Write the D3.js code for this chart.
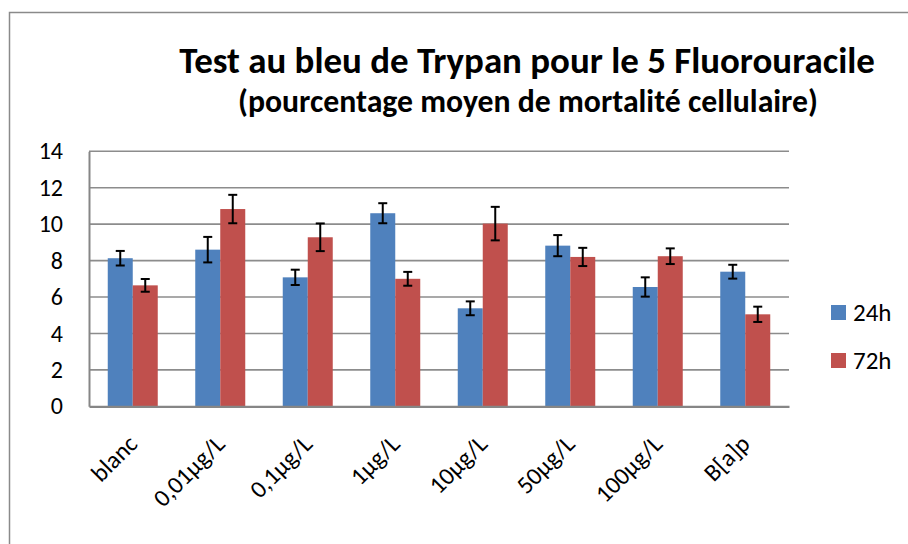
<!DOCTYPE html>
<html>
<head>
<meta charset="utf-8">
<script src="https://cdn.jsdelivr.net/npm/d3@7"></script>
<style>
  body { margin: 0; background: #fff; }
  svg text { font-family: Carlito, "Open Sans", "Noto Sans", sans-serif; fill: #000; }
</style>
</head>
<body>
<div id="chart"></div>
<script>
// --- Data ---
const categories = ["blanc", "0,01µg/L", "0,1µg/L", "1µg/L", "10µg/L", "50µg/L", "100µg/L", "B[a]p"];
const seriesNames = ["24h", "72h"];
const values24h = [8.13, 8.6, 7.08, 10.6, 5.38, 8.82, 6.55, 7.39];
const values72h = [6.64, 10.83, 9.28, 7.0, 10.03, 8.2, 8.24, 5.05];
const errors24h = [0.4, 0.7, 0.42, 0.55, 0.38, 0.58, 0.53, 0.38];
const errors72h = [0.35, 0.78, 0.76, 0.38, 0.92, 0.5, 0.43, 0.42];
const yTicks = [0, 2, 4, 6, 8, 10, 12, 14];
const titleText = "Test au bleu de Trypan pour le 5 Fluorouracile";
const subtitleText = "(pourcentage moyen de mortalité cellulaire)";

const colors = { "24h": "#4F81BD", "72h": "#C0504D" };

const W = 908, H = 544;
const plot = { left: 89, right: 789, top: 151.3, bottom: 406.3 };

const svg = d3.select("#chart").append("svg")
  .attr("width", W)
  .attr("height", H);

// chart frame
svg.append("rect")
  .attr("x", 9.5).attr("y", 12.5)
  .attr("width", W + 20).attr("height", H + 20)
  .attr("fill", "#fff")
  .attr("stroke", "#8a8a8a")
  .attr("stroke-width", 1.5);

// --- Scales ---
const x = d3.scaleBand()
  .domain(categories)
  .range([plot.left, plot.right])
  .paddingInner(0.4286)
  .paddingOuter(0.2143);

const xSeries = d3.scaleBand()
  .domain(seriesNames)
  .range([0, x.bandwidth()]);

const y = d3.scaleLinear()
  .domain([0, 14])
  .range([plot.bottom, plot.top]);

// --- Gridlines ---
svg.append("g")
  .selectAll("line")
  .data(yTicks.filter(d => d > 0))
  .join("line")
  .attr("x1", plot.left).attr("x2", plot.right)
  .attr("y1", d => y(d)).attr("y2", d => y(d))
  .attr("stroke", "#8c8c8c")
  .attr("stroke-width", 1.6);

// --- Y axis ---
const yAxis = d3.axisLeft(y)
  .tickValues(yTicks)
  .tickSize(0)
  .tickPadding(26);

const yG = svg.append("g")
  .attr("transform", `translate(${plot.left},0)`)
  .call(yAxis);
yG.select(".domain").attr("stroke", "#868686").attr("stroke-width", 2);
yG.selectAll("text").attr("font-size", 24).attr("font-family", null);

// --- Bars ---
const rows = categories.map((c, i) => ({
  category: c,
  items: [
    { series: "24h", value: values24h[i], err: errors24h[i] },
    { series: "72h", value: values72h[i], err: errors72h[i] }
  ]
}));

const groups = svg.append("g")
  .selectAll("g")
  .data(rows)
  .join("g")
  .attr("transform", d => `translate(${x(d.category)},0)`);

groups.selectAll("rect")
  .data(d => d.items)
  .join("rect")
  .attr("x", d => xSeries(d.series))
  .attr("y", d => y(d.value))
  .attr("width", xSeries.bandwidth())
  .attr("height", d => y(0) - y(d.value))
  .attr("fill", d => colors[d.series]);

// error bars
const err = groups.selectAll("g.err")
  .data(d => d.items)
  .join("g")
  .attr("class", "err")
  .attr("stroke", "#000")
  .attr("stroke-width", 2);

const cap = 4.5;
err.append("line")
  .attr("x1", d => xSeries(d.series) + xSeries.bandwidth() / 2)
  .attr("x2", d => xSeries(d.series) + xSeries.bandwidth() / 2)
  .attr("y1", d => y(d.value + d.err))
  .attr("y2", d => y(d.value - d.err));
err.append("line")
  .attr("x1", d => xSeries(d.series) + xSeries.bandwidth() / 2 - cap)
  .attr("x2", d => xSeries(d.series) + xSeries.bandwidth() / 2 + cap)
  .attr("y1", d => y(d.value + d.err))
  .attr("y2", d => y(d.value + d.err));
err.append("line")
  .attr("x1", d => xSeries(d.series) + xSeries.bandwidth() / 2 - cap)
  .attr("x2", d => xSeries(d.series) + xSeries.bandwidth() / 2 + cap)
  .attr("y1", d => y(d.value - d.err))
  .attr("y2", d => y(d.value - d.err));

// --- X axis ---
const xG = svg.append("g")
  .attr("transform", `translate(0,${plot.bottom})`)
  .call(d3.axisBottom(x).tickSize(0).tickFormat(""));
xG.select(".domain").attr("stroke", "#868686").attr("stroke-width", 2.2);

svg.append("g")
  .selectAll("text")
  .data(categories)
  .join("text")
  .attr("transform", d => `translate(${x(d) + x.bandwidth() / 2},${plot.bottom + 33}) rotate(-45)`)
  .attr("text-anchor", "end")
  .attr("dy", "0.35em")
  .attr("font-size", 24.5)
  .text(d => d);

// --- Legend ---
const legend = svg.append("g")
  .selectAll("g")
  .data(seriesNames)
  .join("g")
  .attr("transform", (d, i) => `translate(831,${305 + i * 48})`);
legend.append("rect")
  .attr("width", 15).attr("height", 15)
  .attr("fill", d => colors[d]);
legend.append("text")
  .attr("x", 22).attr("y", 16)
  .attr("font-size", 25)
  .text(d => d);

// --- Titles ---
const title = svg.append("text")
  .attr("x", 527).attr("y", 72.5)
  .attr("text-anchor", "middle")
  .attr("font-weight", "bold")
  .attr("font-size", 35)
  .text(titleText);
const sub = svg.append("text")
  .attr("x", 528).attr("y", 112)
  .attr("text-anchor", "middle")
  .attr("font-weight", "bold")
  .attr("font-size", 28)
  .text(subtitleText);

// fit text widths to the reference layout
function fitWidth(sel, target) {
  const len = sel.node().getComputedTextLength();
  const fs = +sel.attr("font-size");
  sel.attr("font-size", (fs * target / len).toFixed(2));
}
fitWidth(title, 696);
fitWidth(sub, 580);
</script>
</body>
</html>
